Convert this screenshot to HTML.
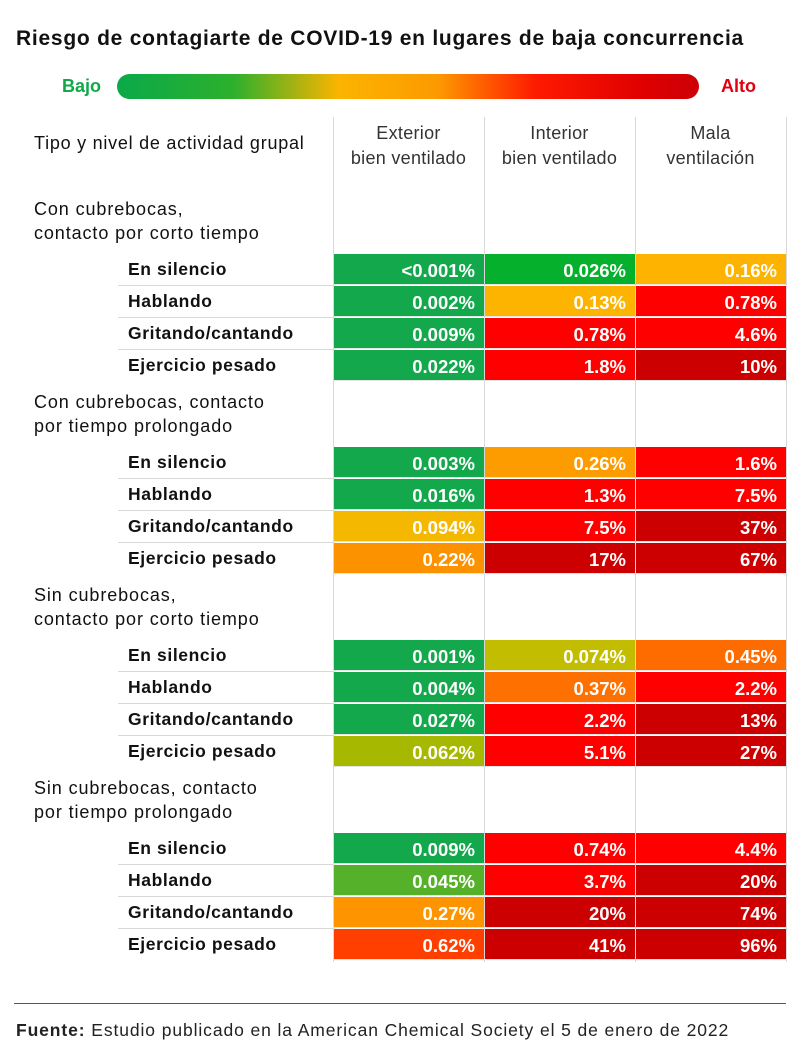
<!DOCTYPE html>
<html><head><meta charset="utf-8"><style>
body{margin:0;width:800px;height:1061px;background:#fff;font-family:"Liberation Sans",sans-serif;position:relative;overflow:hidden;color:#111}
.a{position:absolute;white-space:nowrap}
.t{left:16px;top:27px;font-size:21px;font-weight:bold;letter-spacing:0.75px}
.bar{left:117px;top:74px;width:582px;height:25px;border-radius:13px;background:linear-gradient(90deg,#0aa94a 0%,#2db02c 20%,#fbb400 38%,#fd9a00 55%,#fe1a00 72%,#e00000 90%,#cc0006 100%)}
.vl{position:absolute;top:117px;height:845px;width:1px;background:#d8d8d8}
.hd{font-size:18px;color:#333;text-align:center;width:151px;line-height:25px;top:121px;letter-spacing:0.3px}
.g{left:34px;font-size:18px;line-height:24px;color:#111;letter-spacing:0.9px}
.r{left:128px;font-size:17.5px;font-weight:bold;letter-spacing:0.6px}
.sep{position:absolute;left:118px;width:215px;height:1px;background:#d8d8d8}
.c{position:absolute;width:150px;height:31px;color:#fff;font-weight:bold;font-size:18.5px;text-align:right;box-sizing:border-box;padding-right:9px;line-height:33px;border-bottom:1px solid #e5e5e5}
</style></head><body>
<div class="a t">Riesgo de contagiarte de COVID-19 en lugares de baja concurrencia</div>
<div class="a" style="left:62px;top:76px;font-size:18px;font-weight:bold;color:#12a848">Bajo</div>
<div class="a bar"></div>
<div class="a" style="left:721px;top:76px;font-size:18px;font-weight:bold;color:#e00010">Alto</div>
<div class="vl" style="left:333px"></div><div class="vl" style="left:484px"></div><div class="vl" style="left:635px"></div><div class="vl" style="left:786px"></div>
<div class="a" style="left:34px;top:133px;font-size:18px;letter-spacing:0.75px">Tipo y nivel de actividad grupal</div>
<div class="a hd" style="left:333px">Exterior<br>bien ventilado</div>
<div class="a hd" style="left:484px">Interior<br>bien ventilado</div>
<div class="a hd" style="left:635px">Mala<br>ventilación</div>
<div id="x"></div>
<script>
const groups=[
["Con cubrebocas,<br>contacto por corto tiempo",[["<0.001%","#13a84c"],["0.026%","#05b12c"],["0.16%","#fdb300"],["0.002%","#13a84c"],["0.13%","#fdb400"],["0.78%","#fe0000"],["0.009%","#13a84c"],["0.78%","#fe0000"],["4.6%","#fe0000"],["0.022%","#13a84c"],["1.8%","#fe0000"],["10%","#cc0000"]]],
["Con cubrebocas, contacto<br>por tiempo prolongado",[["0.003%","#13a84c"],["0.26%","#fd9c00"],["1.6%","#fe0000"],["0.016%","#13a84c"],["1.3%","#fe0000"],["7.5%","#fe0000"],["0.094%","#f4b800"],["7.5%","#fe0000"],["37%","#cc0000"],["0.22%","#fc9200"],["17%","#cc0000"],["67%","#cc0000"]]],
["Sin cubrebocas,<br>contacto por corto tiempo",[["0.001%","#13a84c"],["0.074%","#c2bd00"],["0.45%","#fe6c00"],["0.004%","#13a84c"],["0.37%","#fe7000"],["2.2%","#fe0000"],["0.027%","#13a84c"],["2.2%","#fe0000"],["13%","#cc0000"],["0.062%","#a6b800"],["5.1%","#fe0000"],["27%","#cc0000"]]],
["Sin cubrebocas, contacto<br>por tiempo prolongado",[["0.009%","#13a84c"],["0.74%","#fe0000"],["4.4%","#fe0000"],["0.045%","#55b02a"],["3.7%","#fe0000"],["20%","#cc0000"],["0.27%","#fe9400"],["20%","#cc0000"],["74%","#cc0000"],["0.62%","#fe3f00"],["41%","#cc0000"],["96%","#cc0000"]]]];
const names=["En silencio","Hablando","Gritando/cantando","Ejercicio pesado"];
let h="";
groups.forEach((g,gi)=>{const base=254+gi*193;
h+=`<div class="a g" style="top:${base-57}px">${g[0]}</div>`;
for(let r=0;r<4;r++){const y=base+r*32;
h+=`<div class="a r" style="top:${y+5}px">${names[r]}</div>`;
if(r<3)h+=`<div class="sep" style="top:${y+31}px"></div>`;
for(let c=0;c<3;c++){const d=g[1][r*3+c];
h+=`<div class="c" style="left:${334+c*151}px;top:${y}px;background:${d[1]}">${d[0].replace('<','&lt;')}</div>`;}}});
document.getElementById('x').innerHTML=h;
</script>
<div class="a" style="left:14px;top:1003px;width:772px;height:1px;background:#555"></div>
<div class="a" style="left:16px;top:1020px;font-size:17.5px;color:#222;letter-spacing:0.9px"><b>Fuente:</b> Estudio publicado en la American Chemical Society el 5 de enero de 2022</div>
</body></html>
